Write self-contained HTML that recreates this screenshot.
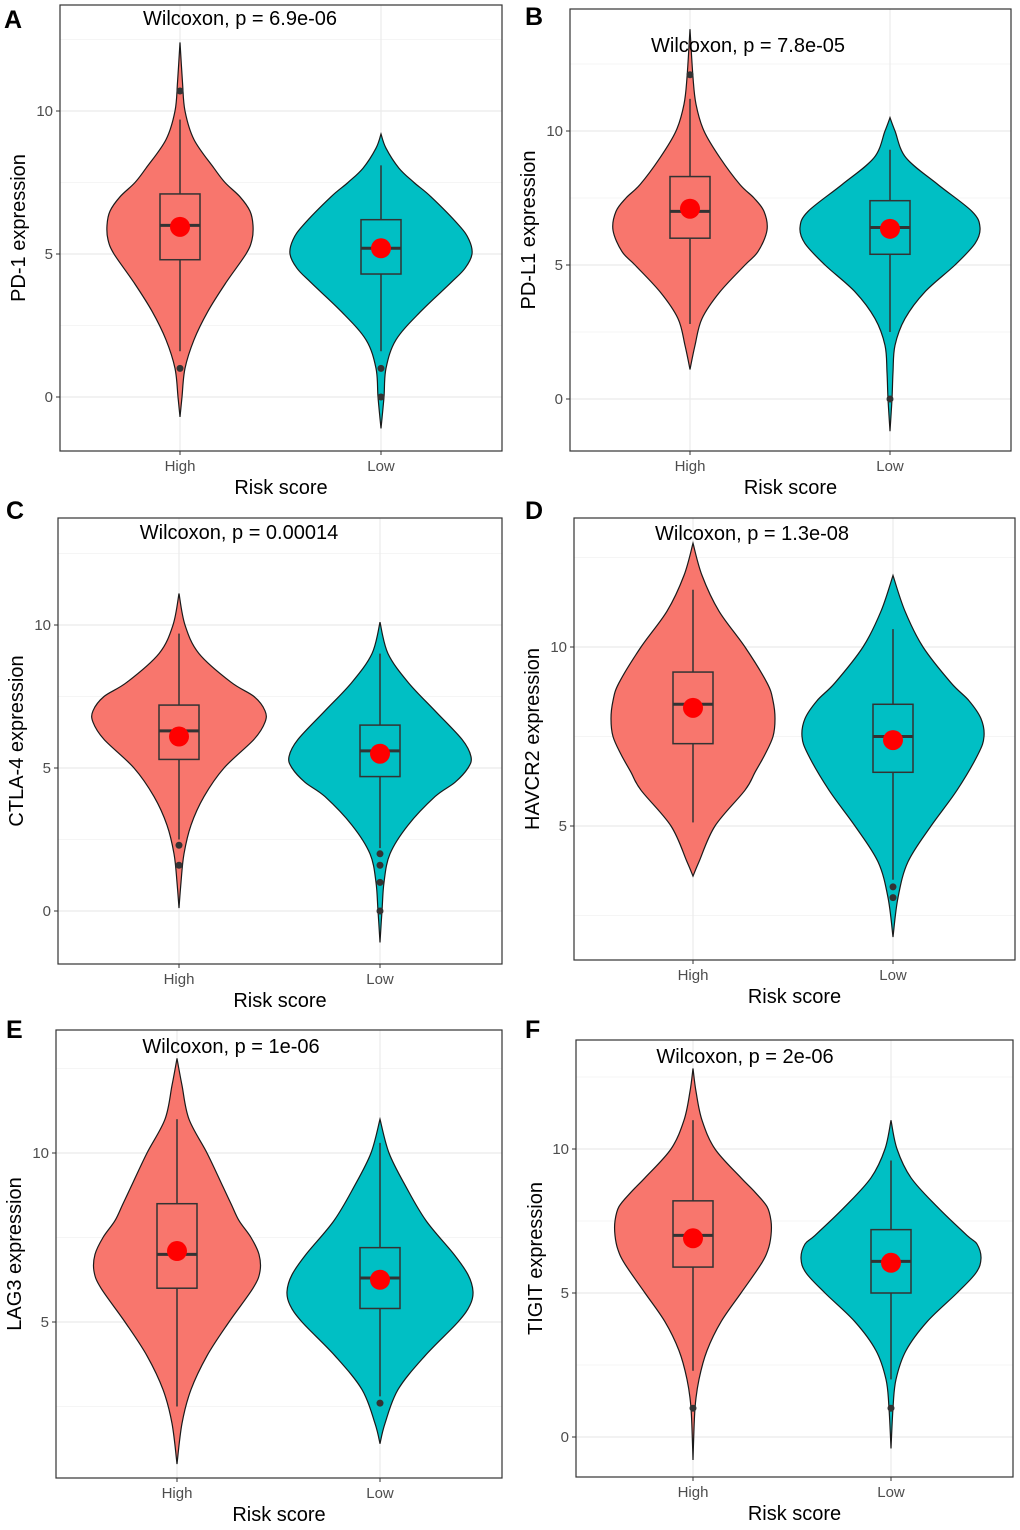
<!DOCTYPE html>
<html><head><meta charset="utf-8">
<style>
html,body{margin:0;padding:0;background:#fff;}
svg{display:block;font-family:"Liberation Sans",Arial,sans-serif;}
</style></head>
<body>
<svg id="fig" width="1020" height="1530" viewBox="0 0 1020 1530"></svg>
<script>
// ---------- data ----------
const groups = ["High","Low"];
const panelLetters = ["A","B","C","D","E","F"];
const yLabels = ["PD-1 expression","PD-L1 expression","CTLA-4 expression","HAVCR2 expression","LAG3 expression","TIGIT expression"];
const pTexts = ["Wilcoxon, p = 6.9e-06","Wilcoxon, p = 7.8e-05","Wilcoxon, p = 0.00014","Wilcoxon, p = 1.3e-08","Wilcoxon, p = 1e-06","Wilcoxon, p = 2e-06"];
const yTicks = [[0,5,10],[0,5,10],[0,5,10],[5,10],[5,10],[0,5,10]];

// density profiles: values and half-widths (density) per violin [high, low]
const densVals = [
 [[-0.7,0,1,2,3,4,5,5.5,6,6.5,7,7.5,8,9,10,11,12.4],[-1.1,0,1,2,3,4,4.5,5,5.5,6,7,7.5,8,8.7,9.2]],
 [[1.1,2,3,4,5,5.5,6.3,7,7.5,8,9,10,11,12,13.8],[-1.2,0,1,2,3,4,5,5.8,6.4,7,8,9,10,10.5]],
 [[0.1,1,2,3,4,5,6,6.6,7,7.5,8,9,10,11.1],[-1.1,0,1,2,3,4,4.5,5,5.4,6,7,8,9,10.1]],
 [[3.6,4,5,6,6.5,7,7.5,8,8.5,9,10,11,12,12.9],[1.9,3,4,5,6,7,7.5,8,8.5,9,10,11,12]],
 [[0.8,2,3,4,5,6,6.5,7,7.5,8,8.5,9,10,11,12,12.8],[1.4,2,3,4,5,5.5,5.9,6.4,7,8,9,10,11]],
 [[-0.8,1,2,3,4,5,6,6.5,7,7.5,8,8.5,9,10,11,12,12.8],[-0.4,1,2,3,4,5,5.7,6.2,6.7,7,8,9,10,11]]
];
const densW = [
 [[0,2,5,14,28,46,66,72,73,70,60,45,34,14,5,2.5,0],[0,3,5,15,40,70,84,91,88,78,50,33,18,5,0]],
 [[0,5,12,30,55,68,77,74,64,50,30,14,6,3,0],[0,2,3,5,15,35,65,85,90,82,48,16,5,0]],
 [[0,2,5,12,25,45,75,86,86,75,52,20,6,0],[0,2,4,10,28,55,75,88,91,82,55,28,8,0]],
 [[0,6,22,52,62,72,80,82,80,74,52,26,9,0],[0,5,15,38,64,85,91,88,76,58,30,12,0]],
 [[0,5,14,30,52,76,83,82,74,62,54,46,30,12,5,0],[0,5,18,45,78,90,93,88,74,46,26,9,0]],
 [[0,2,6,14,28,48,68,75,78,78,74,62,48,22,9,3,0],[0,2,5,15,36,66,85,90,86,76,46,20,6,0]]
];
// box stats [whiskerLo, q1, median, q3, whiskerHi]
const boxStats = [
 [[1.6,4.8,6.0,7.1,9.7],[1.6,4.3,5.2,6.2,8.1]],
 [[2.8,6.0,7.0,8.3,11.2],[2.5,5.4,6.4,7.4,9.3]],
 [[2.5,5.3,6.3,7.2,9.7],[2.2,4.7,5.6,6.5,9.0]],
 [[5.1,7.3,8.4,9.3,11.6],[3.5,6.5,7.5,8.4,10.5]],
 [[2.5,6.0,7.0,8.5,11.0],[2.8,5.4,6.3,7.2,10.3]],
 [[2.3,5.9,7.0,8.2,11.0],[2.0,5.0,6.1,7.2,9.6]]
];
const outliers = [
 [[10.7,1.0],[1.0,0.0]],
 [[12.1],[0.0]],
 [[2.3,1.6],[2.0,1.6,1.0,0.0]],
 [[],[3.3,3.0]],
 [[],[2.6]],
 [[1.0],[1.0]]
];
const means = [[5.95,5.2],[7.1,6.35],[6.1,5.5],[8.3,7.4],[7.1,6.25],[6.9,6.05]];

// ---------- layout ----------
const layout = [
 {x0:60,x1:502,y0:5,y1:451,ta:0,tap:397,tb:10,tbp:111,cx:[180,381],title:[240,18],letter:[12,28],ylab:18},
 {x0:570,x1:1011,y0:9,y1:451,ta:0,tap:399,tb:10,tbp:131,cx:[690,890],title:[748,45],letter:[533,25],ylab:528},
 {x0:58,x1:502,y0:518,y1:964,ta:0,tap:911,tb:10,tbp:625,cx:[179,380],title:[239,532],letter:[14,519],ylab:16},
 {x0:574,x1:1015,y0:518,y1:960,ta:5,tap:826,tb:10,tbp:647,cx:[693,893],title:[752,533],letter:[533,519],ylab:532},
 {x0:56,x1:502,y0:1030,y1:1478,ta:5,tap:1322,tb:10,tbp:1153,cx:[177,380],title:[231,1046],letter:[14,1038],ylab:14},
 {x0:576,x1:1013,y0:1040,y1:1477,ta:0,tap:1437,tb:10,tbp:1149,cx:[693,891],title:[745,1056],letter:[533,1038],ylab:535}
];
const fills = ["#F8766D","#00BFC4"];
const NS = "http://www.w3.org/2000/svg";
const svg = document.getElementById('fig');
function mk(tag, attrs, parent){const e=document.createElementNS(NS,tag);for(const k in attrs)e.setAttribute(k,attrs[k]);(parent||svg).appendChild(e);return e;}

function smoothPath(pts){
  let d = "M"+pts[0][0].toFixed(1)+","+pts[0][1].toFixed(1);
  for(let i=0;i<pts.length-1;i++){
    const p0=pts[Math.max(0,i-1)],p1=pts[i],p2=pts[i+1],p3=pts[Math.min(pts.length-1,i+2)];
    const c1=[p1[0]+(p2[0]-p0[0])/6,p1[1]+(p2[1]-p0[1])/6];
    const c2=[p2[0]-(p3[0]-p1[0])/6,p2[1]-(p3[1]-p1[1])/6];
    d+=" C"+c1[0].toFixed(1)+","+c1[1].toFixed(1)+" "+c2[0].toFixed(1)+","+c2[1].toFixed(1)+" "+p2[0].toFixed(1)+","+p2[1].toFixed(1);
  }
  return d;
}

layout.forEach((L,pi)=>{
  const g = mk('g',{});
  
  
  const k = (L.tbp-L.tap)/(L.tb-L.ta);
  const y = v => L.tap + (v-L.ta)*k;
  const vAt = p => L.ta + (p-L.tap)/k;
  const vmin = vAt(L.y1), vmax = vAt(L.y0);
  const gg = mk('g',{},g);
  
  
  const step = yTicks[pi][1]-yTicks[pi][0];
  for(let v=Math.ceil(vmin/(step/2))*(step/2); v<=vmax; v+=step/2){
    const major = yTicks[pi].some(t=>Math.abs(t-v)<1e-6);
    mk('line',{x1:L.x0,x2:L.x1,y1:y(v),y2:y(v),stroke:"#ebebeb","stroke-width":major?1.2:0.6},gg);
  }
  L.cx.forEach(c=>mk('line',{x1:c,x2:c,y1:L.y0,y2:L.y1,stroke:"#ebebeb","stroke-width":1.2},gg));
  groups.forEach((grp,gi)=>{
    const c = L.cx[gi];
    const vals = densVals[pi][gi], w = densW[pi][gi];
    const right = vals.map((v,i)=>[c+w[i],y(v)]);
    const left = vals.map((v,i)=>[c-w[i],y(v)]).reverse();
    const d = smoothPath(right)+" L"+smoothPath(left).slice(1)+" Z";
    const vio = mk('path',{d:d,fill:fills[gi],stroke:"#1a1a1a","stroke-width":1.2},g);
    
    
    const b = boxStats[pi][gi];
    const bw = 20;
    const wl = mk('line',{x1:c,x2:c,y1:y(b[0]),y2:y(b[1]),stroke:"#333","stroke-width":1.5},g);
    
    
    const wh = mk('line',{x1:c,x2:c,y1:y(b[3]),y2:y(b[4]),stroke:"#333","stroke-width":1.5},g);
    
    
    const bx = mk('rect',{x:c-bw,y:y(b[3]),width:2*bw,height:y(b[1])-y(b[3]),fill:fills[gi],stroke:"#333","stroke-width":1.5},g);
    
    
    const md = mk('line',{x1:c-bw,x2:c+bw,y1:y(b[2]),y2:y(b[2]),stroke:"#333","stroke-width":3},g);
    
    
    outliers[pi][gi].forEach(o=>{
      const oc = mk('circle',{cx:c,cy:y(o),r:3.5,fill:"#333"},g);
      
      
    });
    const mn = mk('circle',{cx:c,cy:y(means[pi][gi]),r:10,fill:"#ff0000"},g);
    
    
    mk('line',{x1:c,x2:c,y1:L.y1,y2:L.y1+4,stroke:"#333","stroke-width":1},g);
    const xt = mk('text',{x:c,y:L.y1+20,"text-anchor":"middle","font-size":"15",fill:"#4d4d4d"},g);
    xt.textContent = grp;
    
    
  });
  yTicks[pi].forEach(t=>{
    mk('line',{x1:L.x0-4,x2:L.x0,y1:y(t),y2:y(t),stroke:"#333","stroke-width":1},g);
    const tt = mk('text',{x:L.x0-7,y:y(t)+5,"text-anchor":"end","font-size":"15",fill:"#4d4d4d"},g);
    tt.textContent = t;
    
    
  });
  const br = mk('rect',{x:L.x0,y:L.y0,width:L.x1-L.x0,height:L.y1-L.y0,fill:"none",stroke:"#333","stroke-width":1.2},g);
  
  
  const ti = mk('text',{x:L.title[0],y:L.title[1]+7,"text-anchor":"middle","font-size":"20",fill:"#000"},g);
  ti.textContent = pTexts[pi];
  
  
  const xa = mk('text',{x:(L.x0+L.x1)/2,y:L.y1+43,"text-anchor":"middle","font-size":"20",fill:"#000"},g);
  xa.textContent = "Risk score";
  
  
  const yc = (L.y0+L.y1)/2;
  const ya = mk('text',{x:L.ylab+7,y:yc,"text-anchor":"middle","font-size":"20",fill:"#000",transform:"rotate(-90 "+(L.ylab+7)+" "+yc+")"},g);
  ya.textContent = yLabels[pi];
  
  
  const lt = mk('text',{x:L.letter[0]-8,y:L.letter[1],"font-size":"25","font-weight":"bold",fill:"#000"},g);
  lt.textContent = panelLetters[pi];
  
  
});
</script>
</body></html>
